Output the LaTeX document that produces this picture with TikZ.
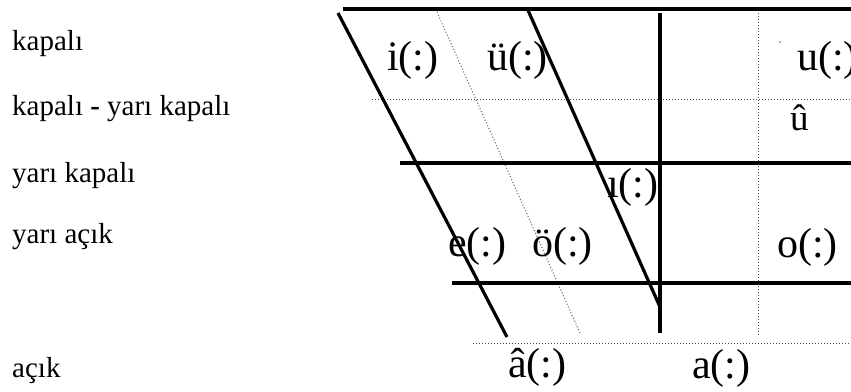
\documentclass[tikz,border=0pt]{standalone}
\usepackage{fontspec}
\setmainfont{Liberation Serif}
\begin{document}
\begin{tikzpicture}[x=1pt,y=-1pt,
  thickline/.style={line width=3.2pt, line cap=butt},
  dotline/.style={line width=1pt, dotted, black!70},
  lightdot/.style={line width=1.1pt, dotted, black!55},
  vowel/.style={anchor=base west, inner sep=0pt, font=\fontsize{42}{42}\selectfont},
  smallvowel/.style={anchor=base west, inner sep=0pt, font=\fontsize{37}{37}\selectfont},
  lab/.style={anchor=base west, inner sep=0pt, font=\fontsize{29}{29}\selectfont}]
\useasboundingbox (0,0) rectangle (851,391);
% coordinates
\coordinate (topL) at (343,9);   \coordinate (topR) at (851,9);
\coordinate (s1a) at (338,13);   \coordinate (s1b) at (507,337);
\coordinate (s2a) at (527,8);    \coordinate (s2b) at (660,307);
\coordinate (sda) at (437,12);   \coordinate (sdb) at (580,333);
\coordinate (va) at (660,13);    \coordinate (vb) at (660,333);
\coordinate (h2L) at (400,163);  \coordinate (h2R) at (851,163);
\coordinate (h3L) at (452,283);  \coordinate (h3R) at (851,283);
\coordinate (d1L) at (372,99);   \coordinate (d1R) at (851,99);
\coordinate (d2L) at (473,343);  \coordinate (d2R) at (851,343);
\coordinate (dva) at (758,10);   \coordinate (dvb) at (758,337);
% lines
\draw[lightdot] (sda) -- (sdb);
\draw[dotline] (d1L) -- (d1R);
\draw[dotline] (d2L) -- (d2R);
\draw[dotline] (dva) -- (dvb);
\draw[thickline] (topL) -- (topR);
\draw[thickline] (h2L) -- (h2R);
\draw[thickline] (h3L) -- (h3R);
\draw[thickline] (s1a) -- (s1b);
\draw[thickline] (s2a) -- (s2b);
\draw[thickline] (va) -- (vb);
\fill[black!60] (780,42) circle (0.8pt);
% left labels
\node[lab] (l1) at (12,50)  {kapalı};
\node[lab] (l2) at (12,115) {kapalı {\bfseries -} yarı kapalı};
\node[lab] (l3) at (12,182) {yarı kapalı};
\node[lab] (l4) at (12,243) {yarı açık};
\node[lab] (l5) at (12,377) {açık};
% vowels
\node[vowel] (vi) at (387,70) {i(:)};
\node[vowel] (vue) at (487,70) {ü(:)};
\node[vowel] (vu) at (797,70) {u(:)};
\node[smallvowel] (vuc) at (790,130) {û};
\node[vowel] (vidot) at (607,197) {ı(:)};
\node[vowel] (ve) at (448,256) {e(:)};
\node[vowel] (voe) at (532,256) {ö(:)};
\node[vowel] (vo) at (777,257) {o(:)};
\node[vowel] (vac) at (508,377) {â(:)};
\node[vowel] (va2) at (692,378) {a(:)};
\end{tikzpicture}
\end{document}
